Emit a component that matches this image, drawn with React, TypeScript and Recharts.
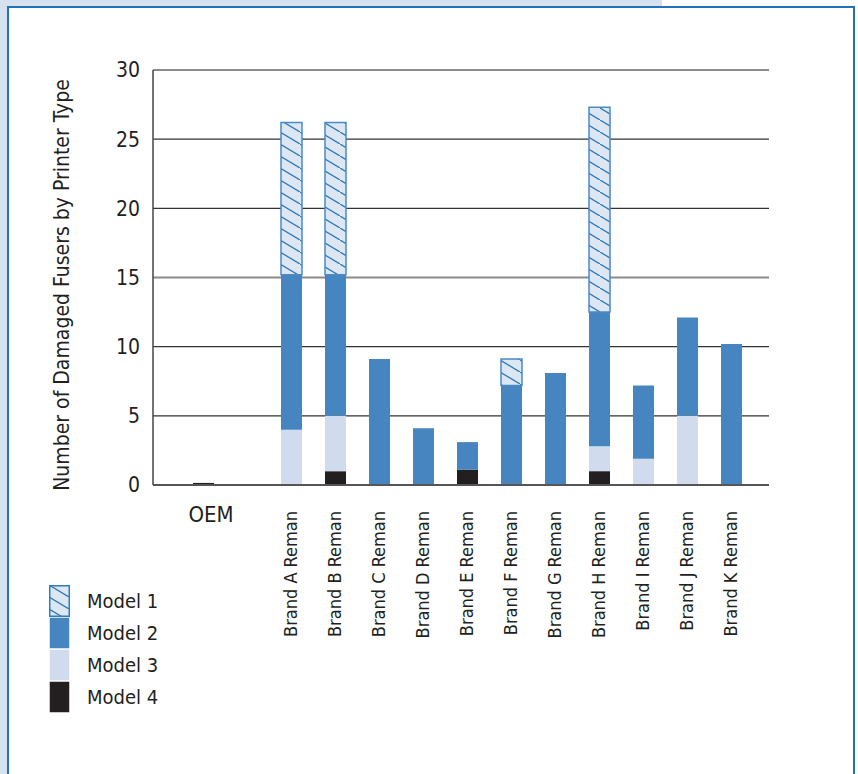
import React from "react"
import { BarChart, Bar, XAxis, YAxis, CartesianGrid, Legend, Label } from "recharts"

const categories = [
  "OEM", "", "Brand A Reman", "Brand B Reman", "Brand C Reman", "Brand D Reman", "Brand E Reman",
  "Brand F Reman", "Brand G Reman", "Brand H Reman", "Brand I Reman", "Brand J Reman", "Brand K Reman",
]
const model1 = [0, null, 11, 11, 0, 0, 0, 1.9, 0, 14.8, 0, 0, 0]
const model2 = [0, null, 11.2, 10.2, 9.1, 4.1, 2, 7.2, 8.1, 9.7, 5.3, 7.1, 10.2]
const model3 = [0, null, 4, 4, 0, 0, 0, 0, 0, 1.8, 1.9, 5, 0]
const model4 = [0.15, null, 0, 1, 0, 0, 1.1, 0, 0, 1, 0, 0, 0]
const yTicks = [0, 5, 10, 15, 20, 25, 30]
const seriesNames = ["Model 1", "Model 2", "Model 3", "Model 4"]

const data = categories.map((name, i) => ({
  name,
  m1: model1[i],
  m2: model2[i],
  m3: model3[i],
  m4: model4[i],
}))

const FONT = '"DejaVu Sans Condensed", "DejaVu Sans", sans-serif'
const INK = "#231f20"
const BLUE = "#4685c0"
const LIGHT = "#d0dcee"
const HATCH_BG = "#dde6f3"
const HATCH_LINE = "#2a78b8"

function HatchPattern({ id }: { id: string }) {
  return (
    <pattern id={id} patternUnits="userSpaceOnUse" width={20} height={12}>
      <rect width={20} height={12} fill={HATCH_BG} />
      <line x1={0} y1={0} x2={20} y2={12} stroke={HATCH_LINE} strokeWidth={1.3} />
      <line x1={-20} y1={-12} x2={0} y2={0} stroke={HATCH_LINE} strokeWidth={1.3} />
      <line x1={20} y1={12} x2={40} y2={24} stroke={HATCH_LINE} strokeWidth={1.3} />
    </pattern>
  )
}

function XTick(props: any) {
  const { x, y, payload } = props
  const label = payload.value
  if (!label) return null
  if (label === "OEM") {
    return (
      <text x={x + 8} y={y + 29} textAnchor="middle" fontSize={22} fill={INK} fontFamily={FONT}>
        {label}
      </text>
    )
  }
  const bx = x + 6
  const by = y + 18
  return (
    <text x={bx} y={by} transform={`rotate(-90, ${bx}, ${by})`} textAnchor="end" fontSize={18} fill={INK} fontFamily={FONT}>
      {label}
    </text>
  )
}

function GridLine(props: any) {
  const { x1, x2, y1, y2, y, height } = props
  const top = Math.abs(y1 - y) < 0.5
  const bottom = Math.abs(y1 - (y + height)) < 0.5
  const mid = props.index === 3
  const stroke = top || mid ? "#8a8a8a" : "#333"
  const w = top || mid ? 2 : 1.2
  if (bottom) return null
  return <line x1={x1} x2={x2} y1={y1} y2={y2} stroke={stroke} strokeWidth={w} />
}

function LegendBox() {
  const swatch = [
    { fill: "url(#hatchLegend)", stroke: "#2f7dbd" },
    { fill: BLUE, stroke: "none" },
    { fill: LIGHT, stroke: "none" },
    { fill: INK, stroke: "none" },
  ]
  return (
    <div style={{ display: "flex", flexDirection: "column", fontFamily: FONT }}>
      {seriesNames.map((n, i) => (
        <div key={n} style={{ display: "flex", alignItems: "center", height: 32 }}>
          <svg width={21} height={32} style={{ display: "block" }}>
            {i === 0 && (
              <defs>
                <HatchPattern id="hatchLegend" />
              </defs>
            )}
            <rect x={0.75} y={0.75} width={19.5} height={30.5} fill={swatch[i].fill} stroke={swatch[i].stroke} strokeWidth={1.5} />
          </svg>
          <span style={{ marginLeft: 17, fontSize: 20, color: INK, lineHeight: "32px" }}>{n}</span>
        </div>
      ))}
    </div>
  )
}

export default function App() {
  return (
    <div style={{ position: "absolute", left: 0, top: 0, width: 858, height: 774, background: "#fff", overflow: "hidden" }}>
      <div style={{ position: "absolute", left: 0, top: 0, width: 662, height: 774, background: "#d6e1f0" }} />
      <div
        style={{
          position: "absolute", left: 7, top: 6, width: 844, height: 800,
          background: "#fff", border: "2px solid #2272b9",
        }}
      />
      <div style={{ position: "absolute", left: 0, top: 0 }}>
        <BarChart
          width={858}
          height={774}
          data={data}
          barSize={21}
          margin={{ top: 70, right: 89, left: 0, bottom: 129 }}
        >
          <defs>
            <HatchPattern id="hatch" />
          </defs>
          <CartesianGrid vertical={false} horizontal={(p: any) => <GridLine key={p.key} {...p} />} />
          <XAxis
            dataKey="name"
            interval={0}
            height={160}
            padding={{ left: 28, right: 16 }}
            tick={<XTick />}
            tickLine={false}
            axisLine={{ stroke: "#555", strokeWidth: 2 }}
          />
          <YAxis
            width={153}
            domain={[0, 30]}
            ticks={yTicks}
            tickSize={0}
            tickMargin={13}
            tickLine={false}
            axisLine={{ stroke: "#444", strokeWidth: 1.5 }}
            tick={{ fontSize: 21, fill: INK, fontFamily: FONT }}
          >
            <Label
              content={() => (
                <text x={69} y={285} transform="rotate(-90, 69, 285)" textAnchor="middle" fontSize={21} fill={INK} fontFamily={FONT}>
                  Number of Damaged Fusers by Printer Type
                </text>
              )}
            />
          </YAxis>
          <YAxis yAxisId="r" orientation="right" width={0} domain={[0, 30]} tick={false} tickLine={false} axisLine={{ stroke: "#444", strokeWidth: 2 }} />
          <Bar dataKey="m4" stackId="a" fill={INK} isAnimationActive={false} name="Model 4" />
          <Bar dataKey="m3" stackId="a" fill={LIGHT} isAnimationActive={false} name="Model 3" />
          <Bar dataKey="m2" stackId="a" fill={BLUE} isAnimationActive={false} name="Model 2" />
          <Bar dataKey="m1" stackId="a" fill="url(#hatch)" stroke="#4a8bc4" strokeWidth={1.5} isAnimationActive={false} name="Model 1" />
          <Legend
            layout="vertical"
            align="center"
            verticalAlign="middle"
            content={() => <LegendBox />}
            wrapperStyle={{ left: 49, top: 585, width: "auto" }}
          />
        </BarChart>
      </div>
    </div>
  )
}
